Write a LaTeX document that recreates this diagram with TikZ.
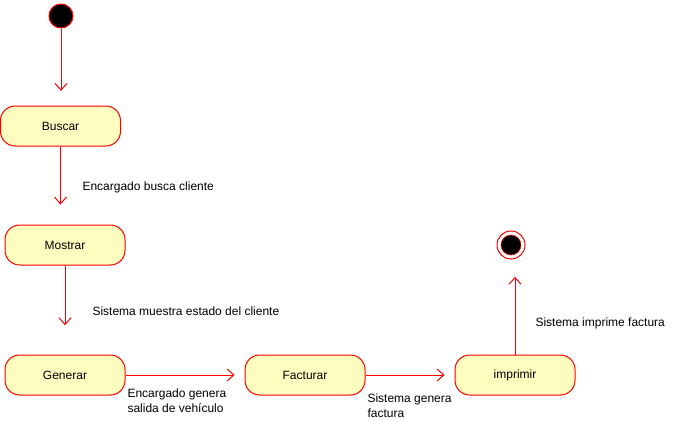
\documentclass[tikz,border=0pt]{standalone}
\usepackage{fontspec}
\setmainfont{Liberation Sans}
\usetikzlibrary{arrows.meta,positioning,calc}

\begin{document}
\begin{tikzpicture}[
    x=0.75pt, y=-0.75pt,
    line width=0.75pt,
    state/.style={rectangle, rounded corners=11pt, draw=red, fill=yellow!25, minimum width=90pt, minimum height=30pt, font=\small},
    start/.style={circle, draw=red, fill=black, minimum size=18pt, inner sep=0pt},
    final/.style={circle, draw=red, fill=white, minimum size=21pt, inner sep=0pt,
        path picture={\filldraw[fill=black, draw=red, line width=0.4pt] (path picture bounding box.center) circle (7.5pt);}},
    lbl/.style={anchor=west, font=\small, align=left, inner sep=0pt},
    arrow/.style={draw=red, -{Straight Barb[length=5pt, width=9pt]}}
]
    \useasboundingbox (0,0) rectangle (674,421);

    \node[start] (ini) at (61,16) {};
    \node[state] (buscar) at (60.5,126) {Buscar};
    \node[state] (mostrar) at (65,245) {Mostrar};
    \node[state] (generar) at (65,375) {Generar};
    \node[state] (facturar) at (305,375) {Facturar};
    \node[state] (imprimir) at (515,375) {imprimir};
    \node[final] (fin) at (511,245) {};

    \draw[arrow, shorten >=11pt] (ini.south) -- (ini.south |- buscar.north);
    \draw[arrow, shorten >=15pt] (buscar.south) -- (buscar.south |- mostrar.north);
    \draw[arrow, shorten >=22pt] (mostrar.south) -- (mostrar.south |- generar.north);
    \draw[arrow, shorten >=7.5pt] (generar.east) -- (facturar.west);
    \draw[arrow, shorten >=7.5pt] (facturar.east) -- (imprimir.west);
    \draw[arrow, shorten >=13pt] (imprimir.north) -- (imprimir.north |- fin.south);

    \node[lbl] (l1) at (82,187) {Encargado busca cliente};
    \node[lbl] (l2) at (92,311) {Sistema muestra estado del cliente};
    \node[lbl] (l3) at (127,401) {Encargado genera\\salida de vehículo};
    \node[lbl] (l4) at (367,406) {Sistema genera\\factura};
    \node[lbl] (l5) at (535,323) {Sistema imprime factura};
\end{tikzpicture}
\end{document}
